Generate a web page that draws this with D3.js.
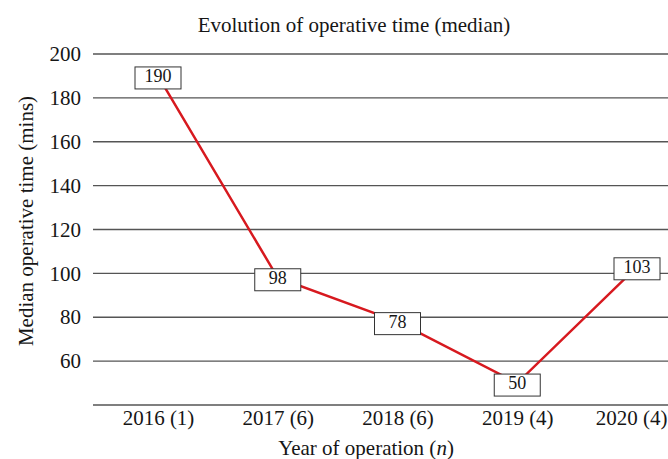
<!DOCTYPE html>
<html>
<head>
<meta charset="utf-8">
<script src="https://cdn.jsdelivr.net/npm/d3@7"></script>
<style>
  body { margin: 0; background: #fff; }
  svg { display: block; font-family: "Liberation Serif", "Times New Roman", serif; }
</style>
</head>
<body>
<svg id="chart" width="668" height="459"></svg>
<script>
const years = ['2016 (1)', '2017 (6)', '2018 (6)', '2019 (4)', '2020 (4)'];
const medianTimes = [190, 98, 78, 50, 103];
const yTicks = [60, 80, 100, 120, 140, 160, 180, 200];

const width = 668;
const height = 459;
const margin = { top: 54, bottom: 54, left: 93 };
const textColor = '#161616';

const svg = d3.select('#chart');

const x = d3.scalePoint()
    .domain(years)
    .range([158, 637]);

const y = d3.scaleLinear()
    .domain([40, 200])
    .range([height - margin.bottom, margin.top]);

// gridlines (the one at 40 doubles as the x axis line)
svg.append('g')
    .selectAll('line')
    .data([40].concat(yTicks))
    .enter()
    .append('line')
    .attr('x1', margin.left)
    .attr('x2', width)
    .attr('y1', d => y(d))
    .attr('y2', d => y(d))
    .attr('stroke', '#555')
    .attr('stroke-width', 1.4);

// y axis labels
const yAxis = svg.append('g')
    .attr('transform', `translate(${margin.left - 12}, 0)`)
    .call(d3.axisLeft(y).tickValues(yTicks).tickSize(0).tickPadding(0));
yAxis.select('.domain').remove();
yAxis.selectAll('text')
    .attr('font-family', '"Liberation Serif", serif')
    .attr('font-size', 21)
    .attr('fill', textColor);

// x axis labels
const xAxis = svg.append('g')
    .attr('transform', `translate(0, ${y(40)})`)
    .call(d3.axisBottom(x).tickSize(0).tickPadding(5));
xAxis.select('.domain').remove();
xAxis.selectAll('text')
    .attr('font-family', '"Liberation Serif", serif')
    .attr('font-size', 21)
    .attr('fill', textColor);

// keep the last year label inside the window
xAxis.selectAll('.tick').each(function (d) {
    const t = d3.select(this).select('text');
    const box = t.node().getBBox();
    const right = x(d) + box.x + box.width;
    if (right > width - 1) t.attr('dx', width - 1 - right);
});

// titles
svg.append('text')
    .attr('x', 354)
    .attr('y', 32)
    .attr('text-anchor', 'middle')
    .attr('font-size', 21)
    .attr('fill', textColor)
    .text('Evolution of operative time (median)');

const xTitle = svg.append('text')
    .attr('x', 366)
    .attr('y', 455)
    .attr('text-anchor', 'middle')
    .attr('font-size', 21)
    .attr('fill', textColor);
xTitle.append('tspan').text('Year of operation (');
xTitle.append('tspan').attr('font-style', 'italic').text('n');
xTitle.append('tspan').text(')');

svg.append('text')
    .attr('transform', 'translate(33, 221) rotate(-90)')
    .attr('text-anchor', 'middle')
    .attr('font-size', 21)
    .attr('fill', textColor)
    .text('Median operative time (mins)');

// the red line
const line = d3.line()
    .x((d, i) => x(years[i]))
    .y(d => y(d));

svg.append('path')
    .datum(medianTimes)
    .attr('d', line)
    .attr('fill', 'none')
    .attr('stroke', '#d7191f')
    .attr('stroke-width', 2.5);

// boxed value labels sit on top of the line
const labels = svg.append('g')
    .selectAll('g')
    .data(medianTimes)
    .enter()
    .append('g')
    .attr('transform', (d, i) => `translate(${x(years[i])}, ${y(d) + 2})`);

labels.append('rect')
    .attr('x', -23)
    .attr('y', -11)
    .attr('width', 46)
    .attr('height', 22)
    .attr('fill', '#fff')
    .attr('stroke', '#333')
    .attr('stroke-width', 1);

labels.append('text')
    .attr('text-anchor', 'middle')
    .attr('y', 4)
    .attr('font-size', 18)
    .attr('fill', textColor)
    .text(d => d);
</script>
</body>
</html>
